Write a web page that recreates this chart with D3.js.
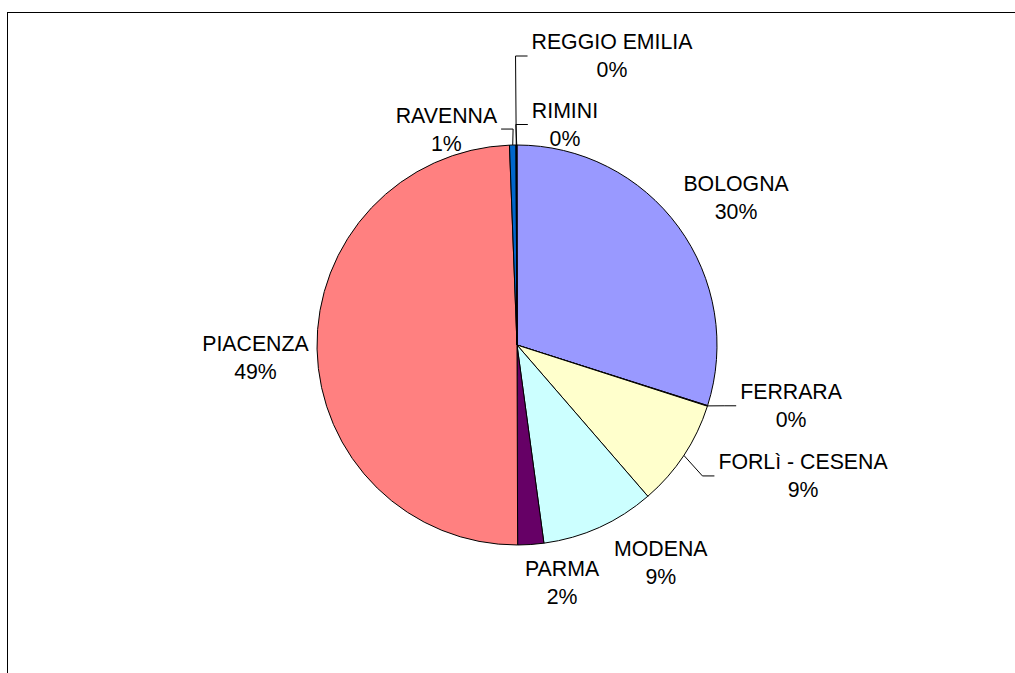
<!DOCTYPE html>
<html>
<head>
<meta charset="utf-8">
<script src="https://cdn.jsdelivr.net/npm/d3@7"></script>
<style>
  body { margin: 0; background: #fff; }
  svg { display: block; font-family: "Liberation Sans", Arial, sans-serif; }
</style>
</head>
<body>
<svg id="chart" width="1015" height="673"></svg>
<script>
// provinces, clockwise from 12 o'clock
var names = ["BOLOGNA", "FERRARA", "FORLì - CESENA", "MODENA", "PARMA", "PIACENZA", "RAVENNA", "REGGIO EMILIA", "RIMINI"];
var values = [29.9, 0.05, 8.7, 9.2, 2.1, 49.45, 0.52, 0.04, 0.04];
var colors = ["#9999FF", "#993366", "#FFFFCC", "#CCFFFF", "#660066", "#FF8080", "#0066CC", "#CCCCFF", "#000080"];

// label nudges from the default label ring, and which labels get a leader line
var nudge = [[7.6, 6.7], [24.5, -19], [67.5, -13.6], [36, -21], [27, -24], [0.4, 6.7], [-65, 46], [96, -27], [48.3, 41.5]];
var leader = [false, true, true, false, false, false, true, true, true];

var svg = d3.select("#chart"),
  cx = 517, cy = 345,
  radius = 200,
  labelRadius = 262;

// chart area border (right and bottom run off the picture)
svg.append("rect")
  .attr("x", 7.5).attr("y", 12.5)
  .attr("width", 1030).attr("height", 700)
  .attr("fill", "none")
  .attr("stroke", "#000");

var data = names.map(function(n, i) { return { name: n, value: values[i], i: i }; });
var total = d3.sum(values);

var pie = d3.pie().sort(null).value(function(d) { return d.value; });
var arcs = pie(data);
var arc = d3.arc().innerRadius(0).outerRadius(radius);

var g = svg.append("g").attr("transform", "translate(" + cx + "," + cy + ")");

g.selectAll("path.slice")
  .data(arcs)
  .enter().append("path")
    .attr("class", "slice")
    .attr("d", arc)
    .attr("fill", function(d) { return colors[d.data.i]; })
    .attr("stroke", "#000")
    .attr("stroke-width", 1)
    .attr("stroke-linejoin", "round");

function pointAt(angle, r) {
  return [r * Math.sin(angle), -r * Math.cos(angle)];
}

var fmt = d3.format(".0%");

var labels = g.append("g")
  .attr("font-size", "21.3px")
  .attr("fill", "#000")
  .attr("text-anchor", "middle");

arcs.forEach(function(d) {
  var i = d.data.i;
  var mid = (d.startAngle + d.endAngle) / 2;
  var base = pointAt(mid, labelRadius);
  var lx = base[0] + nudge[i][0], ly = base[1] + nudge[i][1];

  var t = labels.append("g");
  var t1 = t.append("text")
    .attr("x", lx).attr("y", ly - 14)
    .attr("dy", "0.35em")
    .text(d.data.name);
  t.append("text")
    .attr("x", lx).attr("y", ly + 14)
    .attr("dy", "0.35em")
    .text(fmt(d.data.value / total));

  if (leader[i]) {
    var w = t1.node().getComputedTextLength();
    var start = pointAt(mid, radius);
    var right = lx > start[0] - 5;
    var endX = right ? lx - w / 2 - 4 : lx + w / 2 + 4;
    var elbowX = right ? endX - 12 : endX + 12;
    g.append("path")
      .attr("d", d3.line()([start, [elbowX, ly], [endX, ly]]))
      .attr("fill", "none")
      .attr("stroke", "#000")
      .attr("stroke-width", 1);
  }
});
</script>
</body>
</html>
